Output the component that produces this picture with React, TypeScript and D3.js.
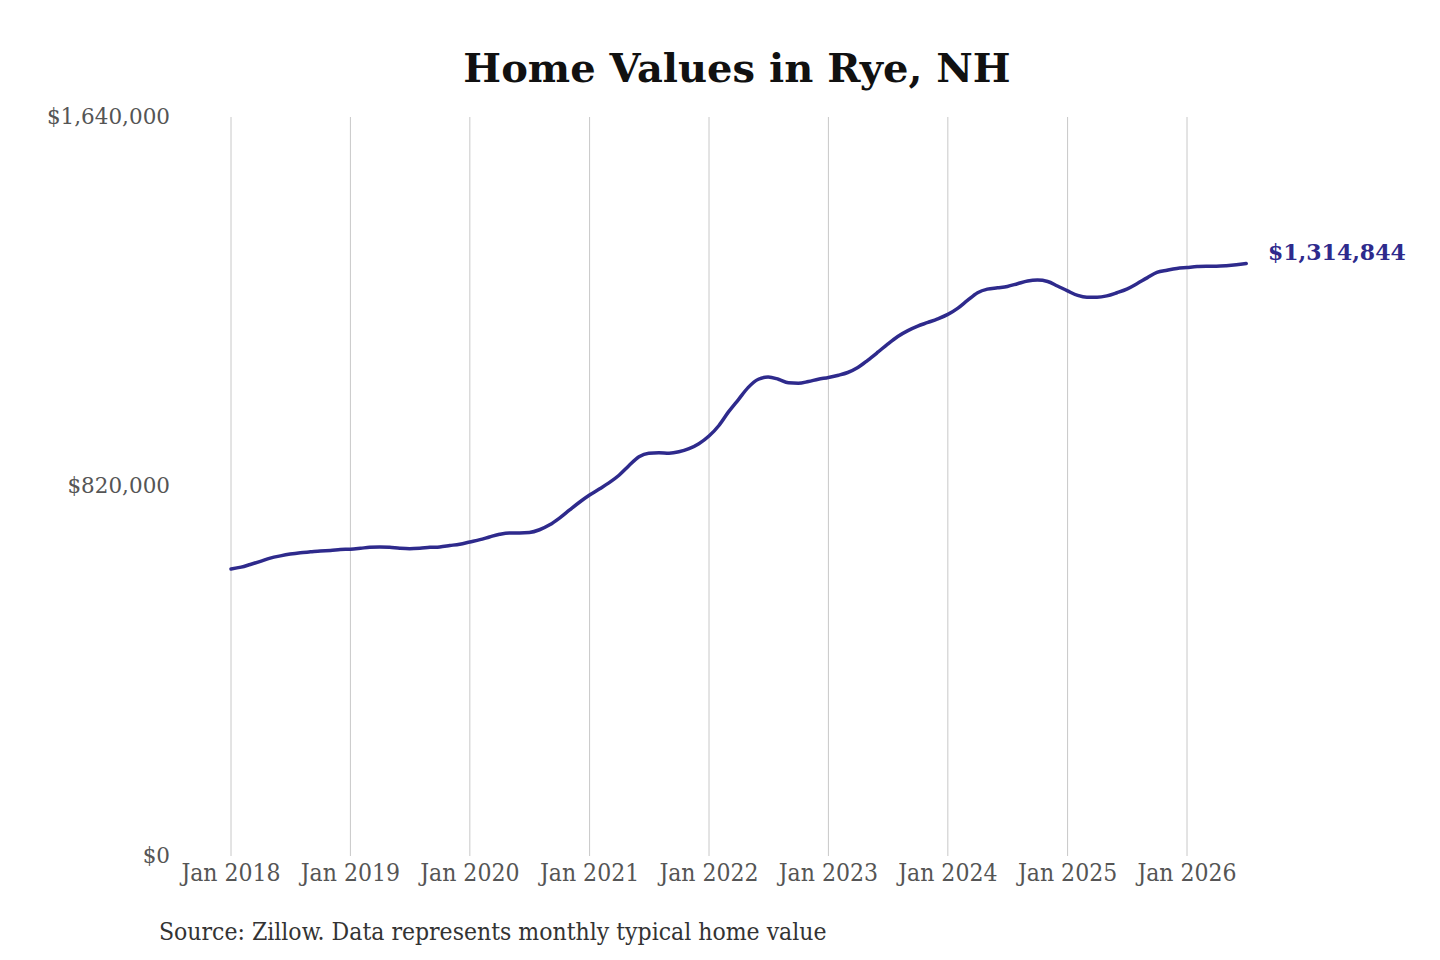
import * as d3 from 'd3';

// monthly typical home value, Jan 2018 .. Jul 2026
const startYear = 2018;
const values2018 = [637000, 641000, 647000, 654000, 661000, 666000, 670000, 673000, 675000, 677000, 678000, 680000];
const values2019 = [681000, 683000, 685000, 686000, 685000, 683000, 682000, 683000, 685000, 686000, 689000, 692000];
const values2020 = [697000, 702000, 708000, 714000, 717000, 717000, 718000, 724000, 735000, 750000, 768000, 785000];
const values2021 = [801000, 815000, 828000, 845000, 866000, 886000, 894000, 895000, 894000, 897000, 904000, 915000];
const values2022 = [932000, 956000, 985000, 1013000, 1040000, 1058000, 1063000, 1058000, 1050000, 1049000, 1053000, 1058000];
const values2023 = [1062000, 1067000, 1073000, 1084000, 1100000, 1118000, 1136000, 1153000, 1166000, 1176000, 1184000, 1192000];
const values2024 = [1202000, 1216000, 1233000, 1250000, 1258000, 1261000, 1264000, 1270000, 1276000, 1278000, 1275000, 1265000];
const values2025 = [1254000, 1244000, 1240000, 1240000, 1243000, 1250000, 1258000, 1270000, 1283000, 1295000, 1300000, 1304000];
const values2026 = [1306000, 1308000, 1309000, 1309000, 1310000, 1312000, 1314844];

const yTicks = [0, 820000, 1640000];
const xTickYears = [2018, 2019, 2020, 2021, 2022, 2023, 2024, 2025, 2026];

const allValues = [
    ...values2018, ...values2019, ...values2020, ...values2021, ...values2022,
    ...values2023, ...values2024, ...values2025, ...values2026,
];
const data = allValues.map((v, i) => ({ date: new Date(startYear, i, 1), value: v }));

const W = 1440;
const H = 960;
const lineColor = '#2e2a8c';
const serif = '"DejaVu Serif", serif';
const serifCond = '"DejaVu Serif Condensed", "DejaVu Serif", serif';

const App = () => {
    const x = d3.scaleTime()
        .domain([new Date(2018, 0, 1), new Date(2026, 0, 1)])
        .range([231, 1187]);
    const y = d3.scaleLinear().domain([0, 1640000]).range([856, 117]);

    const line = d3.line<{ date: Date; value: number }>()
        .x(d => x(d.date))
        .y(d => y(d.value))
        .curve(d3.curveMonotoneX);

    const last = data[data.length - 1];
    const fmt = d3.format('$,');

    return (
        <svg width={W} height={H} style={{ display: 'block', margin: -8 }}>
            <rect width={W} height={H} fill="#fff" />
            <text x={737} y={82} textAnchor="middle" fontFamily={serif} fontWeight="bold" fontSize={40} fill="#111">
                Home Values in Rye, NH
            </text>

            {/* vertical grid */}
            {xTickYears.map(yr => (
                <line key={yr} x1={x(new Date(yr, 0, 1))} x2={x(new Date(yr, 0, 1))} y1={y(1640000)} y2={y(0)}
                    stroke="#c8c8c8" strokeWidth={1} />
            ))}

            {/* y labels */}
            {yTicks.map(t => (
                <text key={t} x={170} y={y(t) - 1} dy="0.35em" textAnchor="end" fontFamily={serif} fontSize={21.5} fill="#555">
                    {fmt(t)}
                </text>
            ))}

            {/* x labels */}
            {xTickYears.map(yr => (
                <text key={yr} x={x(new Date(yr, 0, 1))} y={872} dy="0.35em" textAnchor="middle" fontFamily={serifCond} fontSize={24.5} fill="#555">
                    {`Jan ${yr}`}
                </text>
            ))}

            <path d={line(data) ?? ''} fill="none" stroke={lineColor} strokeWidth={3.5} strokeLinecap="round" />

            <text x={1268} y={260} fontFamily={serif} fontWeight="bold" fontSize={22} fill={lineColor}>
                {fmt(last.value)}
            </text>

            <text x={159} y={931} dy="0.35em" fontFamily={serifCond} fontSize={24.5} fill="#333">
                Source: Zillow. Data represents monthly typical home value
            </text>
        </svg>
    );
};

export default App;
